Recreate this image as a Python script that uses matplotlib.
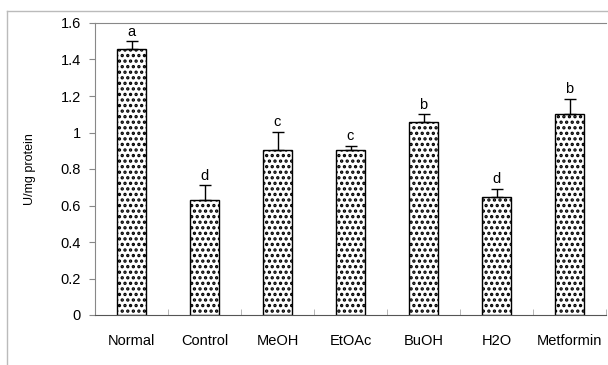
import matplotlib.pyplot as plt
from matplotlib.lines import Line2D
import numpy as np

groups = ["Normal", "Control", "MeOH", "EtOAc", "BuOH", "H2O", "Metformin"]
values = [1.46, 0.63, 0.905, 0.905, 1.06, 0.645, 1.10]
errors = [0.04, 0.08, 0.10, 0.02, 0.04, 0.045, 0.085]
letters = ["a", "d", "c", "c", "b", "d", "b"]

plt.rcParams["font.family"] = ["Liberation Sans", "DejaVu Sans"]
plt.rcParams["hatch.linewidth"] = 1.6

fig = plt.figure(figsize=(6.08, 3.65), dpi=100)
ax = fig.add_axes([95 / 608, 1 - 315 / 365, 511 / 608, 292 / 365])

x = np.arange(len(groups))
ax.bar(x, values, width=0.41, color="white", edgecolor="black", linewidth=1.0,
       hatch="...", zorder=2)
ax.errorbar(x, values, yerr=[np.zeros(len(values)), errors], fmt="none",
            ecolor="black", elinewidth=1.0, capsize=4, capthick=1.0, zorder=3)
for xi, v, e, s in zip(x, values, errors, letters):
    ax.text(xi, v + e + 0.015, s, ha="center", va="bottom", fontsize=10.5)

ax.set_xlim(-0.5, len(groups) - 0.5)
ax.set_ylim(0, 1.6)
ax.set_yticks(np.arange(0, 1.61, 0.2))
ax.set_yticklabels(["0", "0.2", "0.4", "0.6", "0.8", "1", "1.2", "1.4", "1.6"])
ax.set_xticks(x)
ax.set_xticklabels(groups)
ax.set_xticks(np.arange(-0.5, len(groups)), minor=True)
ax.tick_params(axis="x", which="major", length=0, pad=14, labelsize=10.5)
ax.tick_params(axis="x", which="minor", direction="in", length=4, color="#aaaaaa")
ax.tick_params(axis="y", length=4, color="#888888", labelsize=10.5, pad=6)
ax.set_ylabel("U/mg protein", fontsize=9, labelpad=18)

for side in ["top", "left"]:
    ax.spines[side].set_color("#888888")
ax.spines["bottom"].set_color("#555555")
ax.spines["right"].set_visible(False)

fig.add_artist(Line2D([7 / 608, 1], [1 - 11 / 365, 1 - 11 / 365], color="#bbbbbb", lw=1.0))
fig.add_artist(Line2D([7 / 608, 7 / 608], [0, 1 - 11 / 365], color="#bbbbbb", lw=1.0))

fig.savefig("out.png", dpi=100)
